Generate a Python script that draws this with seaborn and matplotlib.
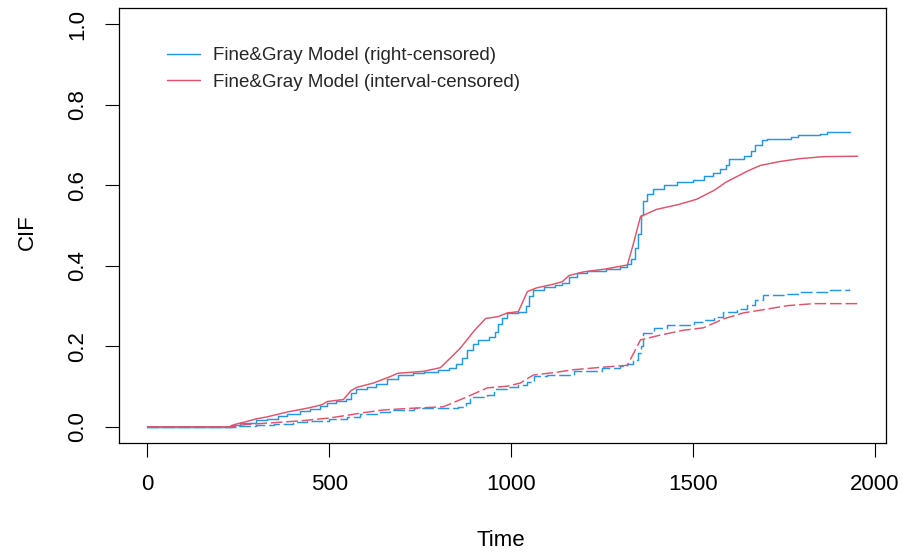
import matplotlib
matplotlib.use("Agg")
import matplotlib.pyplot as plt
import numpy as np
import pandas as pd
import seaborn as sns

# Cumulative incidence, cause 1 (solid) and cause 2 (dashed)
rc1_time = [0, 230, 256, 300, 330, 360, 385, 420, 448, 475, 495, 520, 545, 560, 575,
            605, 630, 660, 688, 730, 760, 800, 830, 850, 865, 880, 895, 910, 940, 955,
            965, 975, 990, 1020, 1040, 1050, 1060, 1090, 1120, 1140, 1160, 1180, 1210,
            1260, 1300, 1320, 1330, 1340, 1348, 1356, 1362, 1375, 1390, 1420, 1455,
            1500, 1530, 1555, 1575, 1590, 1600, 1640, 1660, 1670, 1690, 1705, 1770,
            1790, 1850, 1870, 1933]
rc1_cif = [0.0, 0.004, 0.010, 0.016, 0.020, 0.026, 0.033, 0.040, 0.045, 0.052, 0.060,
           0.064, 0.070, 0.085, 0.093, 0.100, 0.106, 0.118, 0.130, 0.133, 0.136, 0.141,
           0.146, 0.155, 0.170, 0.190, 0.205, 0.215, 0.222, 0.235, 0.255, 0.270, 0.282,
           0.286, 0.300, 0.325, 0.340, 0.348, 0.353, 0.358, 0.372, 0.382, 0.388, 0.393,
           0.398, 0.405, 0.418, 0.445, 0.480, 0.525, 0.560, 0.578, 0.590, 0.600, 0.607,
           0.614, 0.622, 0.630, 0.640, 0.650, 0.664, 0.672, 0.685, 0.700, 0.712, 0.716,
           0.720, 0.725, 0.728, 0.732, 0.733]

ic1_time = [0, 225, 240, 267, 300, 330, 385, 420, 448, 480, 495, 539, 560, 575, 622,
            668, 688, 759, 806, 860, 900, 930, 965, 990, 1020, 1045, 1070, 1110, 1140,
            1160, 1200, 1260, 1320, 1335, 1356, 1400, 1460, 1510, 1560, 1590, 1650,
            1685, 1740, 1795, 1860, 1953]
ic1_cif = [0.0, 0.0, 0.006, 0.012, 0.020, 0.025, 0.037, 0.043, 0.048, 0.055, 0.063,
           0.068, 0.090, 0.098, 0.109, 0.125, 0.133, 0.138, 0.147, 0.195, 0.240, 0.269,
           0.274, 0.283, 0.286, 0.336, 0.345, 0.353, 0.360, 0.376, 0.385, 0.392, 0.402,
           0.450, 0.522, 0.540, 0.552, 0.565, 0.588, 0.607, 0.635, 0.649, 0.659, 0.666,
           0.671, 0.672]

rc2_time = [0, 250, 300, 347, 400, 440, 500, 550, 586, 640, 668, 732, 806, 853, 875,
            888, 935, 952, 990, 1020, 1045, 1062, 1100, 1172, 1250, 1300, 1320, 1335,
            1348, 1356, 1364, 1392, 1430, 1502, 1530, 1557, 1584, 1620, 1650, 1670,
            1694, 1760, 1796, 1870, 1928]
rc2_cif = [0.0, 0.002, 0.005, 0.008, 0.012, 0.015, 0.020, 0.025, 0.032, 0.036, 0.042,
           0.046, 0.048, 0.050, 0.060, 0.075, 0.080, 0.095, 0.100, 0.103, 0.112, 0.127,
           0.130, 0.140, 0.145, 0.150, 0.155, 0.165, 0.184, 0.200, 0.233, 0.245, 0.254,
           0.261, 0.265, 0.274, 0.285, 0.292, 0.303, 0.315, 0.328, 0.330, 0.334, 0.339,
           0.343]

ic2_time = [0, 230, 270, 340, 421, 500, 558, 600, 649, 720, 814, 880, 935, 990, 1026,
            1045, 1062, 1120, 1172, 1250, 1320, 1356, 1411, 1474, 1529, 1584, 1639,
            1694, 1760, 1832, 1953]
ic2_cif = [0.0, 0.0, 0.006, 0.010, 0.015, 0.022, 0.030, 0.036, 0.042, 0.046, 0.050,
           0.075, 0.097, 0.101, 0.109, 0.120, 0.129, 0.135, 0.142, 0.148, 0.153, 0.216,
           0.228, 0.240, 0.246, 0.268, 0.283, 0.291, 0.301, 0.306, 0.306]

legend_labels = ["Fine&Gray Model (right-censored)", "Fine&Gray Model (interval-censored)"]
x_ticks = [0, 500, 1000, 1500, 2000]
y_ticks = [0.0, 0.2, 0.4, 0.6, 0.8, 1.0]

BLUE = "#2297E6"
RED = "#DF536B"

sns.set_theme(style="white")
plt.rcParams["font.family"] = ["Liberation Sans", "DejaVu Sans"]

fig = plt.figure(figsize=(9.04, 5.55), dpi=100)
ax = fig.add_axes([119 / 904, 1 - 443 / 555, 767 / 904, 435 / 555])

dash = (0, (8, 2.6))
sns.lineplot(x=rc1_time, y=rc1_cif, ax=ax, color=BLUE, lw=1.05, estimator=None,
             sort=False, drawstyle="steps-post", legend=False)
sns.lineplot(x=ic1_time, y=ic1_cif, ax=ax, color=RED, lw=1.05, estimator=None,
             sort=False, legend=False)
sns.lineplot(x=rc2_time, y=rc2_cif, ax=ax, color=BLUE, lw=1.05, estimator=None,
             sort=False, drawstyle="steps-post", linestyle=dash, legend=False)
sns.lineplot(x=ic2_time, y=ic2_cif, ax=ax, color=RED, lw=1.05, estimator=None,
             sort=False, linestyle=dash, legend=False)

xmax = max(max(rc1_time), max(ic1_time), max(rc2_time), max(ic2_time))
ax.set_xlim(-0.04 * xmax, xmax * 1.04)
ax.set_ylim(-0.04, 1.04)
ax.set_xticks(x_ticks)
ax.set_xticklabels([str(v) for v in x_ticks])
ax.set_yticks(y_ticks)
ax.set_yticklabels([f"{v:.1f}" for v in y_ticks], rotation=90, va="center")

for s in ax.spines.values():
    s.set_visible(True)
    s.set_color("black")
    s.set_linewidth(0.9)

ax.tick_params(axis="both", direction="out", length=10, width=0.8, color="black",
               labelsize=16, labelcolor="black", bottom=True, left=True)
ax.tick_params(axis="x", pad=12)
ax.tick_params(axis="y", pad=12)

ax.set_xlabel("Time", fontsize=16, color="black")
ax.set_ylabel("CIF", fontsize=16, color="black")
ax.xaxis.set_label_coords(0.5 + (500 - 502) / 767, -(540 - 443) / 435)
ax.yaxis.set_label_coords(-(119 - 27) / 767, (443 - 232) / 435)
ax.xaxis.label.set_va("center")
ax.yaxis.label.set_va("center")

lines = ax.get_lines()
ax.legend(handles=[lines[0], lines[1]], labels=legend_labels, loc="upper left",
          bbox_to_anchor=(167 / 904, 1 - 47 / 555), bbox_transform=fig.transFigure,
          frameon=False, fontsize=13.5, handlelength=1.75, handletextpad=0.7,
          labelspacing=0.5, borderpad=0, borderaxespad=0)

ax.grid(False)
fig.savefig("out.png", dpi=100)
